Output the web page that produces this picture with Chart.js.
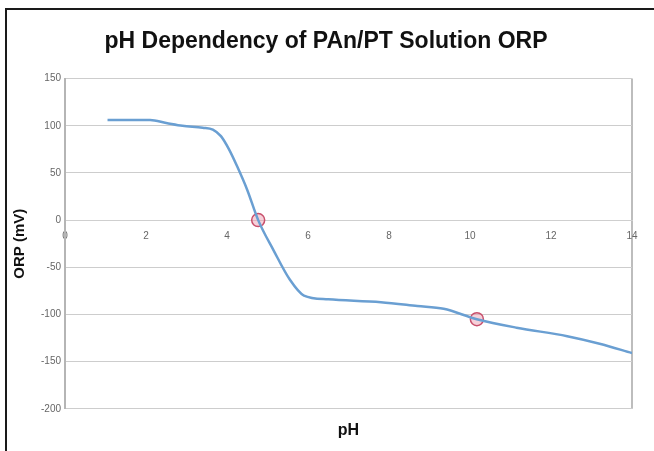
<!DOCTYPE html>
<html>
<head>
<meta charset="utf-8">
<script src="https://cdn.jsdelivr.net/npm/chart.js@4.4.1/dist/chart.umd.min.js"></script>
<style>
    body { margin: 0; background: #fff; }
    #wrap { position: relative; width: 654px; height: 451px; overflow: hidden; }
    /* black frame line on the left and top of the picture */
    #frame { position: absolute; left: 5px; top: 8px; width: 660px; height: 460px;
             border-left: 2px solid #1a1a1a; border-top: 2px solid #1a1a1a; }
    #orpChart { position: absolute; left: 0; top: 0; }
</style>
</head>
<body>
<div id="wrap">
    <div id="frame"></div>
    <canvas id="orpChart" width="654" height="451"></canvas>
</div>
<script>
// Measured curve: pH on the x axis, ORP (mV) on the y axis
const phValues  = [1.05, 2.1, 2.5, 2.9, 3.4, 3.65, 3.85, 4.05, 4.25, 4.5, 4.77, 5.15, 5.55, 5.9, 6.5, 7.8, 8.7, 9.35, 10.17, 11.15, 12.4, 13.2, 14];
const orpValues = [106, 106, 103, 100, 98, 96, 89, 75, 57, 32, 0, -32, -63, -80, -84, -87, -91, -94, -105, -114, -123, -131, -141];

// The two circled points on the curve
const markerPh  = [4.77, 10.17];
const markerOrp = [0, -105];

// Axis ranges and tick steps
const xTickValues = [0, 2, 4, 6, 8, 10, 12, 14];
const yMin = -200, yMax = 150, yStep = 50;

const fontFamily = '"Liberation Sans", Arial, Helvetica, sans-serif';

const ctx = document.getElementById('orpChart').getContext('2d');
const orpChart = new Chart(ctx, {
    type: 'scatter',
    data: {
        datasets: [{
            label: 'ORP',
            data: phValues.map((ph, i) => ({ x: ph, y: orpValues[i] })),
            showLine: true,
            borderColor: '#6a9fd2',
            borderWidth: 2.5,
            pointRadius: 0,
            cubicInterpolationMode: 'monotone'
        }, {
            label: 'Marked points',
            data: markerPh.map((ph, i) => ({ x: ph, y: markerOrp[i] })),
            showLine: false,
            pointRadius: 6.5,
            pointBorderWidth: 1.5,
            pointBorderColor: '#c8506c',
            pointBackgroundColor: 'rgba(236, 150, 170, 0.45)'
        }]
    },
    options: {
        responsive: false,
        animation: false,
        // left/right padding keeps the title centred like the original
        layout: { padding: { left: 20, right: 22, top: 0, bottom: 0 } },
        plugins: {
            legend: { display: false },
            tooltip: { enabled: false },
            title: {
                display: true,
                text: 'pH Dependency of PAn/PT Solution ORP',
                color: '#111',
                font: { family: fontFamily, size: 23, weight: 'bold' },
                padding: { top: 28, bottom: 23 }
            }
        },
        scales: {
            // x axis crosses the y axis at ORP = 0
            x: {
                type: 'linear',
                position: { y: 0 },
                min: 0,
                max: 14,
                afterBuildTicks: scale => { scale.ticks = xTickValues.map(v => ({ value: v })); },
                ticks: {
                    color: '#666',
                    font: { family: fontFamily, size: 10 },
                    padding: 10,
                    maxRotation: 0
                },
                grid: {
                    drawTicks: false,
                    // only the right-hand edge of the plot gets a vertical line
                    color: c => (c.tick && c.tick.value === 14) ? '#bdbdbd' : 'rgba(0,0,0,0)',
                    lineWidth: 2
                },
                border: { color: '#cfcfcf', width: 1 }
            },
            // empty axis at the bottom that only carries the "pH" title
            xTitle: {
                type: 'linear',
                position: 'bottom',
                min: 0,
                max: 14,
                ticks: { display: false },
                grid: { display: false, drawTicks: false },
                border: { display: false },
                title: {
                    display: true,
                    text: 'pH',
                    color: '#111',
                    font: { family: fontFamily, size: 16, weight: 'bold' },
                    padding: { top: 12, bottom: 11 }
                }
            },
            y: {
                min: yMin,
                max: yMax,
                afterFit: scale => { scale.width = 45; },
                ticks: {
                    stepSize: yStep,
                    color: '#666',
                    font: { family: fontFamily, size: 10 },
                    padding: 4
                },
                grid: { color: '#cdcdcd', lineWidth: 1, drawTicks: false },
                border: { color: '#b5b5b5', width: 2 },
                title: {
                    display: true,
                    text: 'ORP (mV)',
                    color: '#111',
                    font: { family: fontFamily, size: 15, weight: 'bold' },
                    // pulled left, into the page padding
                    padding: { top: -9, bottom: 0 }
                }
            }
        }
    }
});
</script>
</body>
</html>
